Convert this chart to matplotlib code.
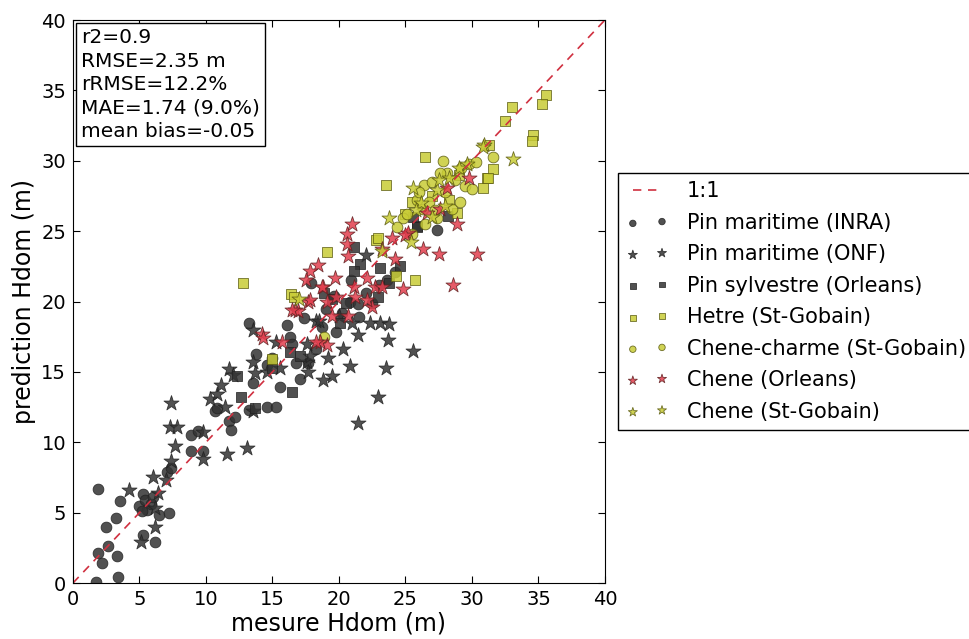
import matplotlib

matplotlib.use("Agg")
import matplotlib.pyplot as plt
from matplotlib.offsetbox import AnchoredText

# measured vs predicted dominant height (m), one list per data source
inra = [(1.7, 0.1), (1.9, 6.7), (2.2, 1.4), (1.9, 2.1), (2.6, 2.6), (2.5, 4.0), (3.3, 1.9), (3.4, 0.4),
        (3.2, 4.6), (3.5, 5.8), (5.3, 3.4), (6.2, 2.9), (6.5, 4.8), (7.2, 5.0), (5.3, 6.3), (5.0, 5.5),
        (5.4, 5.9), (5.6, 5.2), (5.9, 5.6), (6.0, 6.1), (5.2, 5.1), (7.1, 7.9), (7.4, 8.2), (8.9, 10.5),
        (9.4, 10.8), (8.9, 9.4), (9.8, 9.4), (10.7, 12.2), (11.7, 11.5), (11.9, 10.9), (12.2, 11.8),
        (13.2, 12.3), (10.8, 12.4), (14.6, 12.5), (15.3, 12.5), (15.6, 13.9), (17.1, 14.5), (13.5, 14.2),
        (13.8, 16.3), (13.2, 18.5), (16.1, 18.3), (16.3, 17.5), (16.5, 17.0), (16.8, 15.6), (17.7, 15.6),
        (18.3, 16.6), (17.4, 18.8), (17.9, 21.3), (19.0, 19.5), (19.6, 20.4), (20.2, 19.2), (20.8, 20.0),
        (21.4, 19.8), (22.0, 20.6), (21.5, 18.9), (22.5, 19.9), (23.0, 21.2), (23.6, 21.5), (24.2, 22.1),
        (27.4, 25.1), (20.9, 21.5), (19.8, 17.8), (18.7, 18.2), (15.0, 16.0), (14.6, 15.5)]
onf = [(4.2, 6.6), (5.1, 2.9), (6.2, 4.0), (6.2, 5.3), (6.4, 6.4), (6.0, 7.5), (7.0, 7.3), (7.4, 8.7),
       (7.7, 9.7), (7.3, 11.1), (7.8, 11.1), (7.4, 12.8), (9.8, 10.7), (9.8, 8.8), (10.3, 13.1),
       (10.8, 13.4), (11.1, 14.1), (11.4, 12.5), (11.6, 9.2), (11.7, 15.2), (12.0, 14.8), (13.1, 9.6),
       (13.5, 12.2), (13.5, 15.7), (13.7, 14.9), (13.5, 18.0), (14.6, 15.0), (15.6, 15.3), (15.3, 17.1),
       (17.6, 15.7), (17.7, 15.0), (17.6, 17.0), (17.8, 16.1), (18.3, 18.6), (18.8, 14.4), (19.5, 14.7),
       (19.2, 16.0), (20.3, 16.6), (20.8, 15.4), (21.4, 17.6), (21.4, 11.4), (22.0, 23.3), (22.3, 18.5),
       (23.1, 18.5), (23.8, 18.4), (23.7, 17.3), (23.5, 15.3), (22.9, 13.2), (25.6, 16.5), (18.5, 18.6),
       (20.0, 19.0), (21.0, 18.5)]
sylvestre = [(12.3, 14.7), (12.6, 13.2), (13.7, 12.4), (16.5, 13.6), (15.0, 15.3), (16.3, 16.4),
             (17.1, 16.1), (18.9, 20.6), (21.1, 23.9), (21.6, 22.7), (21.1, 22.2), (23.1, 22.4),
             (24.6, 22.5), (23.8, 21.3), (25.9, 25.4), (22.9, 20.3), (20.1, 18.5), (25.6, 26.0),
             (25.9, 25.3), (28.2, 26.1), (19.5, 20.2), (20.5, 19.9)]
hetre = [(12.8, 21.3), (16.4, 20.5), (15.0, 15.9), (16.6, 20.3), (19.1, 23.5), (22.8, 24.4), (24.3, 21.8),
         (25.7, 21.5), (25.5, 27.1), (26.5, 30.3), (23.5, 28.3), (22.9, 24.5), (30.8, 28.1), (31.1, 28.8),
         (28.9, 26.3), (35.6, 34.7), (35.3, 34.0), (33.0, 33.8), (32.5, 32.8), (34.6, 31.8), (34.5, 31.4),
         (31.3, 31.1), (31.6, 29.4), (31.2, 28.8), (25.0, 26.2), (27.0, 27.5), (29.0, 29.0), (28.3, 27.2)]
charme = [(18.9, 17.5), (24.8, 25.9), (24.4, 25.3), (26.4, 28.3), (28.1, 29.1), (27.6, 29.1), (25.9, 27.2),
          (26.3, 26.6), (26.8, 27.1), (27.4, 25.9), (28.5, 26.6), (29.1, 27.1), (25.1, 26.2), (28.7, 28.6),
          (29.8, 29.8), (30.3, 29.9), (29.2, 29.5), (31.6, 30.3), (27.0, 28.5), (26.0, 27.8), (28.0, 27.8),
          (29.5, 28.2), (27.2, 26.5), (30.0, 28.0), (26.5, 25.5), (25.5, 24.8), (27.8, 30.0)]
chene_orl = [(14.2, 17.7), (14.3, 17.4), (15.7, 17.1), (16.7, 19.4), (16.9, 19.3), (17.7, 20.0), (18.4, 22.6),
             (17.8, 22.2), (17.5, 21.5), (18.8, 21.0), (19.7, 21.7), (19.1, 20.0), (19.5, 19.0), (19.1, 16.9),
             (18.6, 17.1), (21.0, 25.5), (20.6, 24.8), (20.6, 24.1), (20.7, 23.2), (22.1, 21.7), (22.7, 21.0),
             (23.2, 21.0), (21.1, 21.0), (21.2, 20.3), (18.7, 21.0), (17.8, 20.1), (19.8, 20.3), (20.7, 19.0),
             (22.5, 19.6), (22.1, 20.1), (24.8, 20.9), (24.2, 23.0), (23.2, 23.7), (24.0, 24.5), (26.3, 23.7),
             (27.5, 23.4), (25.2, 24.9), (25.0, 24.7), (16.5, 19.4), (18.3, 17.1), (28.1, 28.1), (29.8, 28.8),
             (27.6, 26.6), (28.9, 25.5), (26.6, 26.3), (30.4, 23.4), (28.6, 21.2)]
chene_sg = [(23.8, 25.9), (23.2, 23.6), (25.4, 24.2), (25.6, 28.1), (27.4, 27.9), (29.6, 29.8), (30.9, 31.1),
            (33.1, 30.1), (30.8, 31.0), (26.2, 27.0), (27.0, 26.0), (28.3, 28.8), (29.0, 29.5), (25.8, 26.5),
            (28.0, 26.8), (27.5, 28.6), (17.0, 20.2)]

stats = ["r2=0.9", "RMSE=2.35 m", "rRMSE=12.2%", "MAE=1.74 (9.0%)", "mean bias=-0.05"]

DARK = "#333333"
YELLOW = "#c8cc36"
RED = "#e23e4e"

series = [
    (inra, "Pin maritime (INRA)", "o", DARK, "#222222", 60),
    (onf, "Pin maritime (ONF)", "*", DARK, "#222222", 130),
    (sylvestre, "Pin sylvestre (Orleans)", "s", DARK, "#222222", 50),
    (hetre, "Hetre (St-Gobain)", "s", YELLOW, "#5a5a10", 50),
    (charme, "Chene-charme (St-Gobain)", "o", YELLOW, "#5a5a10", 60),
    (chene_orl, "Chene (Orleans)", "*", RED, "#602020", 130),
    (chene_sg, "Chene (St-Gobain)", "*", YELLOW, "#5a5a10", 130),
]

fig = plt.figure(figsize=(9.69, 6.39), dpi=100)
ax = fig.add_axes([0.0753, 0.0876, 0.549, 0.8811])

ax.plot([0, 40], [0, 40], linestyle="--", color="#d03040", linewidth=1.2, dashes=(5, 4), label="1:1")
for pts, label, marker, face, edge, size in series:
    ax.scatter([p[0] for p in pts], [p[1] for p in pts], s=size, marker=marker, c=face,
               edgecolors=edge, linewidths=0.6, alpha=0.85, label=label)

ax.set_xlim(0, 40)
ax.set_ylim(0, 40)
ax.set_xticks(range(0, 41, 5))
ax.set_yticks(range(0, 41, 5))
ax.tick_params(direction="in", top=True, right=True, length=5, labelsize=14, pad=5)
for spine in ax.spines.values():
    spine.set_color("black")
ax.set_xlabel("mesure Hdom (m)", fontsize=17, labelpad=2)
ax.set_ylabel("prediction Hdom (m)", fontsize=17, labelpad=4)

box = AnchoredText("\n".join(stats), loc="upper left", pad=0.25, borderpad=0.15,
                   prop=dict(fontsize=14.5, linespacing=1.3))
box.patch.set_edgecolor("black")
ax.add_artist(box)

leg = ax.legend(loc="center left", bbox_to_anchor=(1.025, 0.5), scatterpoints=2, numpoints=2,
                markerscale=0.6, fontsize=15, fancybox=False, edgecolor="black", framealpha=1,
                handlelength=2.0, handletextpad=0.9, labelspacing=0.55, borderaxespad=0)
leg.get_frame().set_linewidth(1.0)

fig.savefig("out.png", dpi=100, facecolor="white")
